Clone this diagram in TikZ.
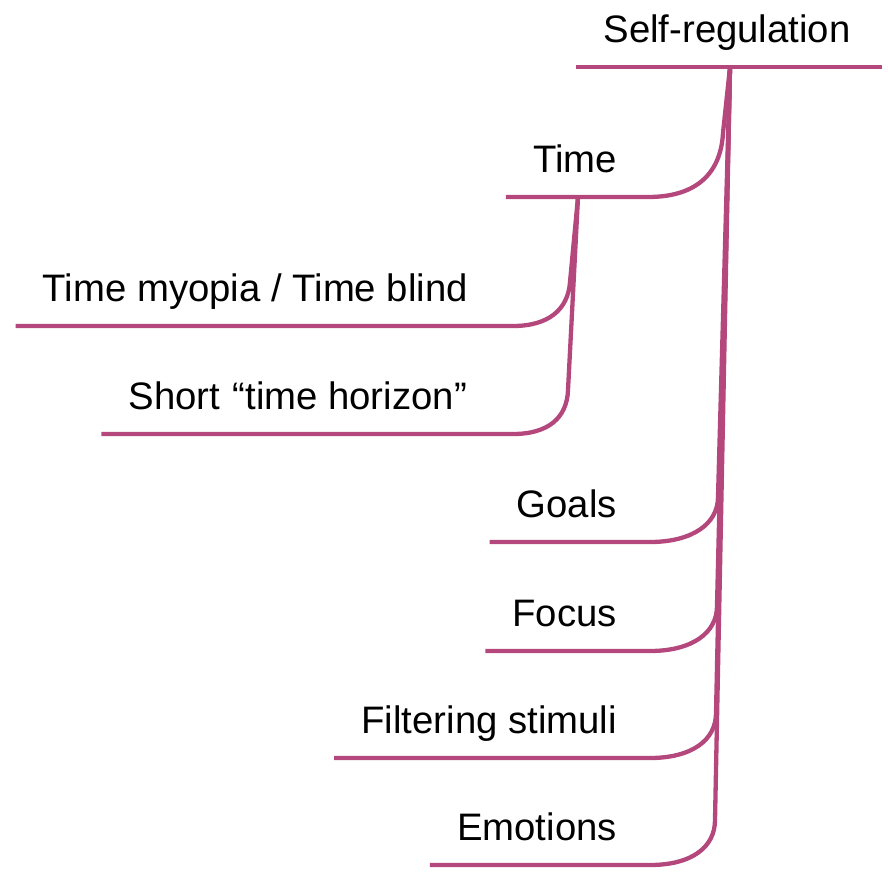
\documentclass[tikz,border=0pt]{standalone}
\usepackage{fontspec}
\setmainfont{Liberation Sans}
\usetikzlibrary{calc}
\definecolor{branch}{HTML}{B4487D}
\begin{document}
\begin{tikzpicture}[x=1pt,y=-1pt,
  topic/.style={font=\fontsize{38.3}{44}\selectfont, inner xsep=27pt, inner ysep=0pt, anchor=base east},
  link/.style={draw=branch, line width=4.3pt, line join=round}]
\useasboundingbox (0,0) rectangle (888,873);

% root topic and its underline
\node[topic, anchor=base] (root) at (727,42) {Self-regulation};
\coordinate (hub) at (730,67);
\draw[link] ($(root.base west)+(0,25)$) -- ($(root.base east)+(4,25)$);

% first-level topics
\node[topic] (time) at (644,172) {Time};
\node[topic] (goals) at (644,517) {Goals};
\node[topic] (focus) at (644,626) {Focus};
\node[topic] (filter) at (644,733) {Filtering stimuli};
\node[topic] (emo) at (644,840) {Emotions};

% second-level topics under Time
\node[topic] (myopia) at (495,301) {Time myopia / Time blind};
\node[topic] (horizon) at (495,409) {Short \kern2pt“time horizon\kern1pt”};
\coordinate (timehub) at (578,197);

% connectors from the root
\draw[link] (hub) -- (723,133) .. controls (721,170) and (700,197) .. (648,197)
  -- ($(time.base west)+(0,25)$);
\draw[link] (hub) -- (718,497) .. controls (718,524) and (692,542) .. (650,542)
  -- ($(goals.base west)+(0,25)$);
\draw[link] (hub) -- (717,606) .. controls (717,633) and (692,651) .. (650,651)
  -- ($(focus.base west)+(0,25)$);
\draw[link] (hub) -- (716,713) .. controls (716,740) and (692,758) .. (650,758)
  -- ($(filter.base west)+(0,25)$);
\draw[link] (hub) -- (715,820) .. controls (715,847) and (692,865) .. (650,865)
  -- ($(emo.base west)+(0,25)$);

% connectors from Time
\draw[link] (timehub) -- (570,282) .. controls (568,310) and (548,326) .. (513,326)
  -- ($(myopia.base west)+(0,25)$);
\draw[link] (timehub) -- (568,390) .. controls (567,418) and (548,434) .. (513,434)
  -- ($(horizon.base west)+(0,25)$);
\end{tikzpicture}
\end{document}
